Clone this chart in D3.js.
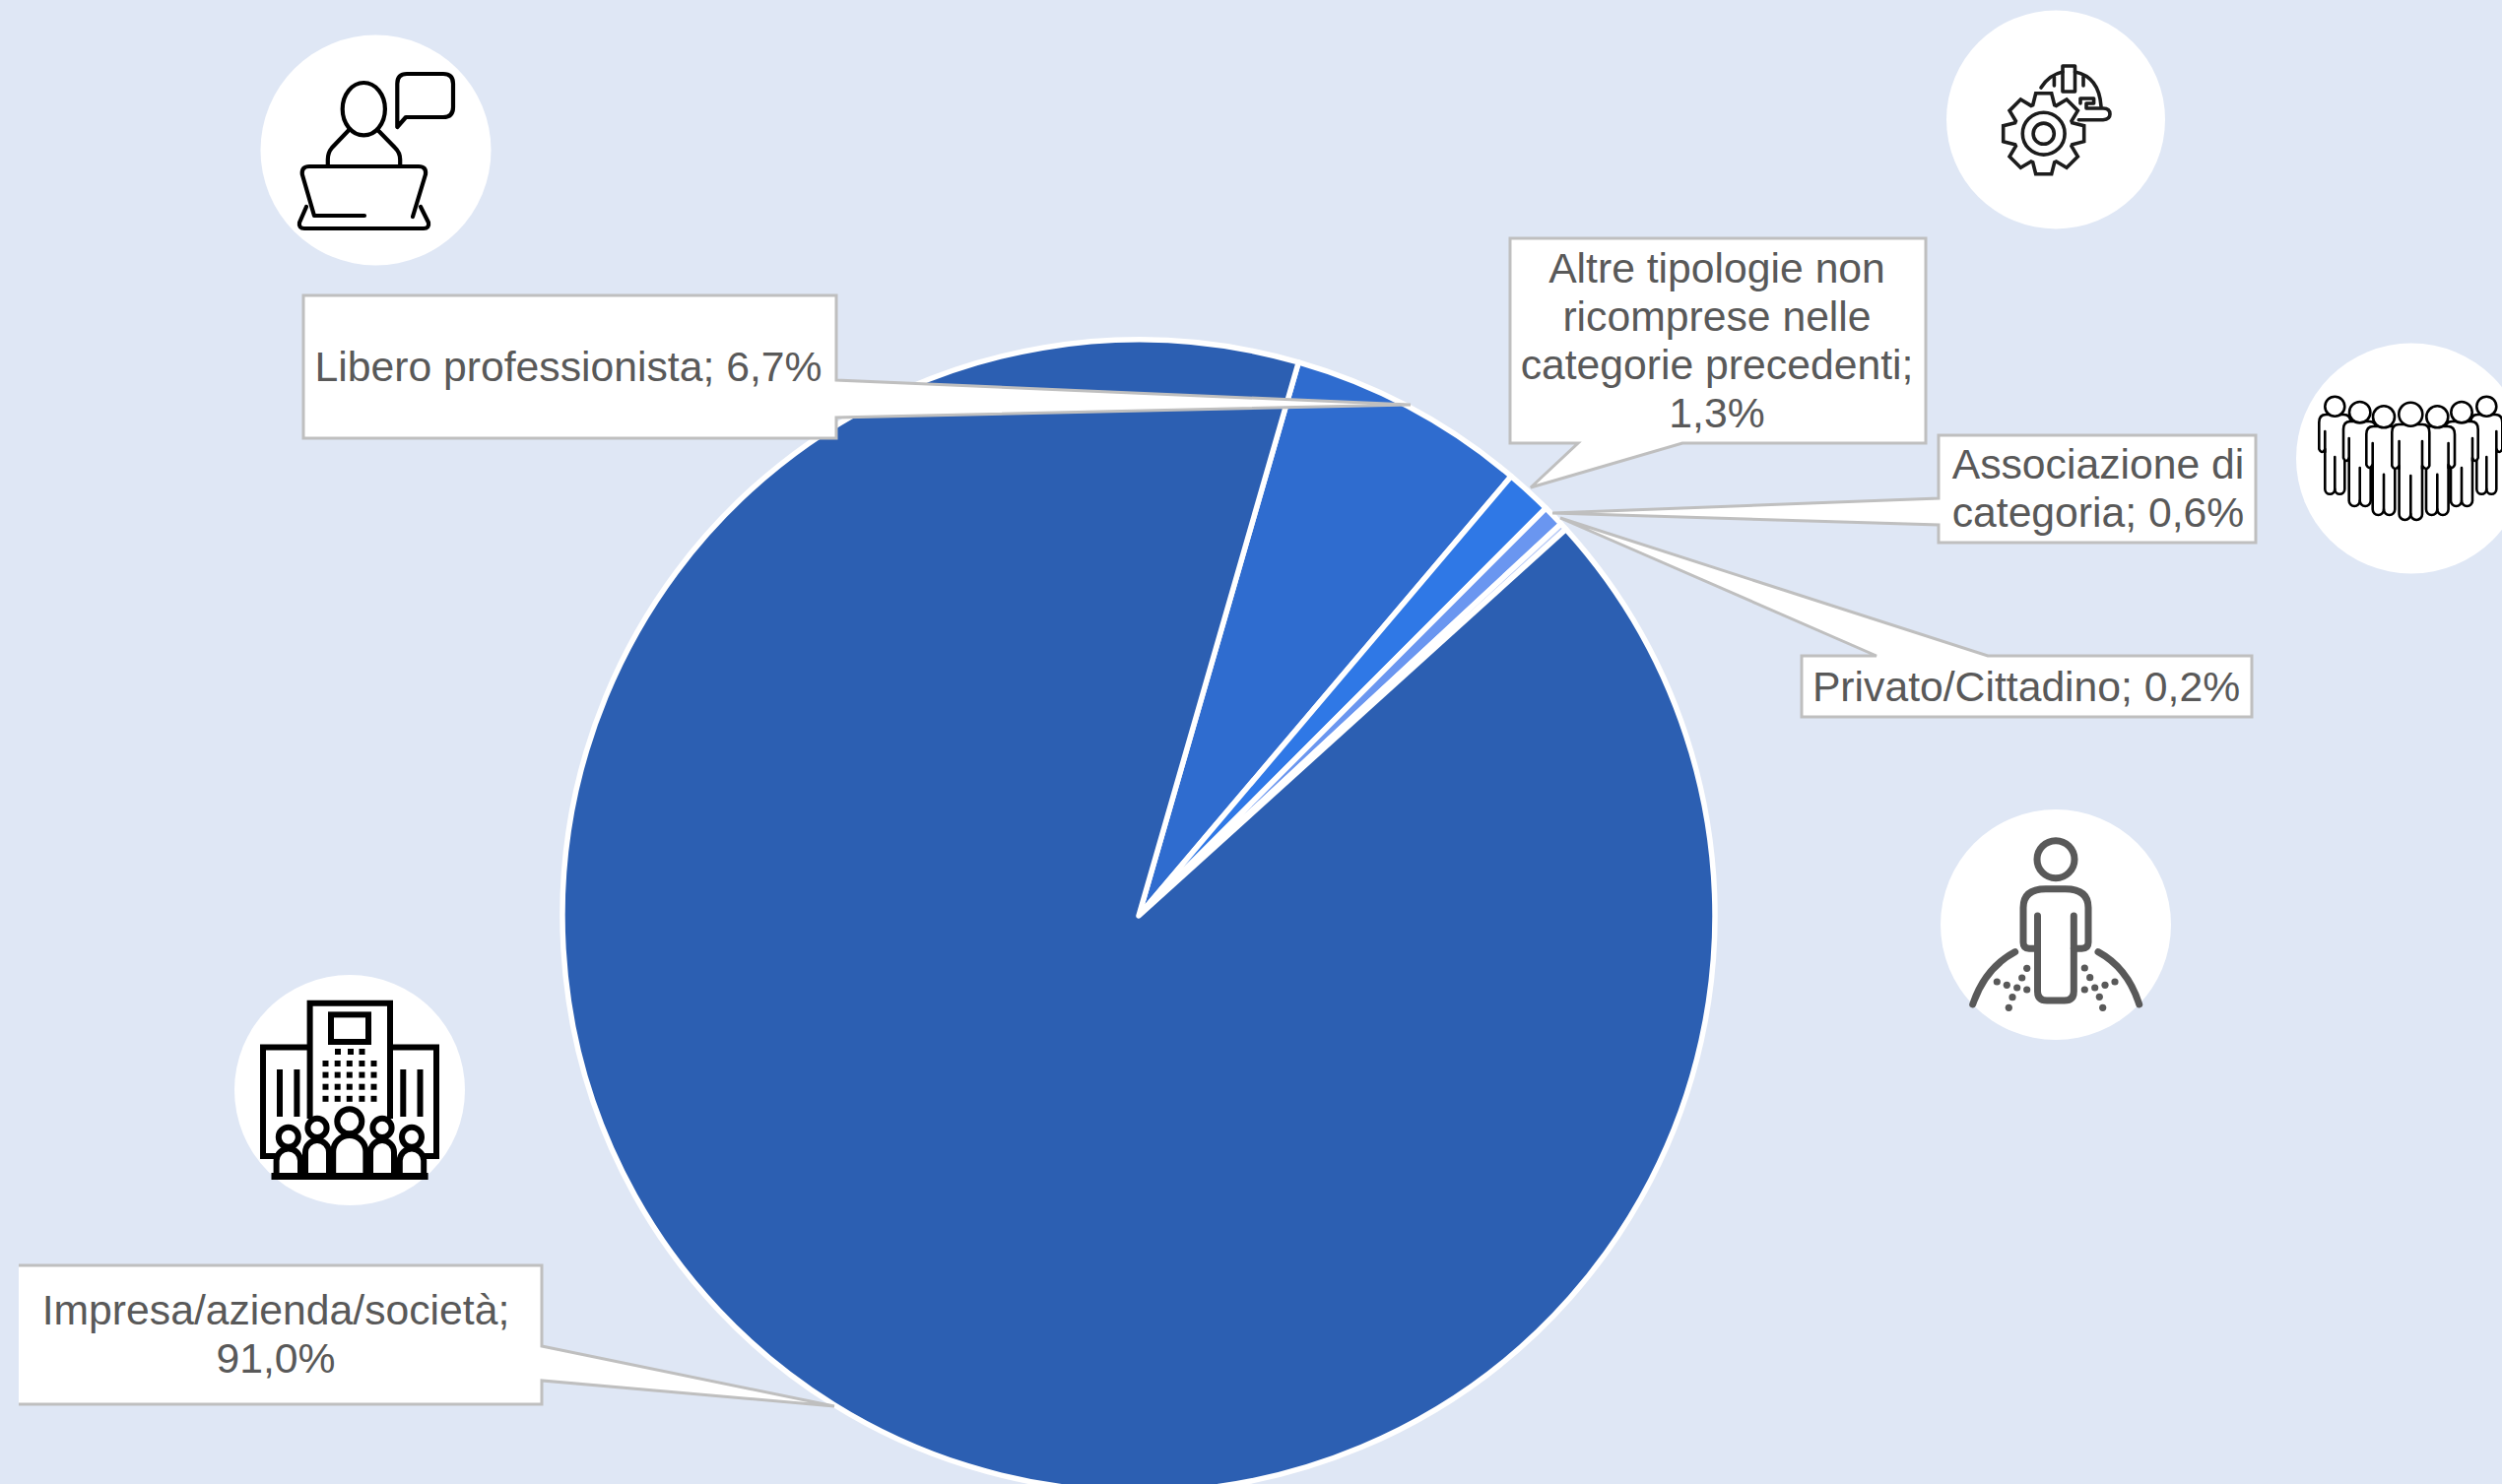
<!DOCTYPE html>
<html lang="it">
<head>
<meta charset="utf-8">
<title>Tipologia di soggetto</title>
<script src="https://cdn.jsdelivr.net/npm/d3@7/dist/d3.min.js"></script>
<style>
  html, body { margin: 0; padding: 0; background: #dfe7f5; overflow: hidden; }
  svg { display: block; }
  text { font-family: "Liberation Sans", Arial, sans-serif; }
</style>
</head>
<body>
<svg id="chart" width="2540" height="1507"></svg>
<script>
// Shares by respondent type, clockwise from the top-right edge of the big slice
const categories = [
  "Libero professionista",
  "Altre tipologie non ricomprese nelle categorie precedenti",
  "Associazione di categoria",
  "Privato/Cittadino",
  "Impresa/azienda/società"
];
const shares = [6.7, 1.3, 0.6, 0.2, 91.0];
const sliceColors = ["#2f6ccf", "#2f78e6", "#6a96f0", "#b9cbf6", "#2c5fb2"];

// Line breaks of each callout; the value is appended to the last text line
const labelLines = [
  ["Libero professionista;"],
  ["Altre tipologie non", "ricomprese nelle", "categorie precedenti;"],
  ["Associazione di", "categoria;"],
  ["Privato/Cittadino;"],
  ["Impresa/azienda/società;"]
];
// Whether the value sits on its own line
const valueOnOwnLine = [false, true, false, false, true];

// Callout outlines: text box plus pointer wedge
const calloutPoints = [
  [[308,300],[849,300],[849,386],[1432,411],[849,424],[849,445],[308,445]],
  [[1533,242],[1955,242],[1955,450],[1708,450],[1554,495],[1602,450],[1533,450]],
  [[1968,442],[2290,442],[2290,551],[1968,551],[1968,533],[1576,521],[1968,506]],
  [[1829,666],[1905,666],[1584,526],[2018,666],[2286,666],[2286,728],[1829,728]],
  [[19,1426],[550,1426],[550,1402],[847,1428],[550,1367],[550,1285],[19,1285]]
];
const calloutOpen = [false, false, false, false, true];
const labelCenterX = [577, 1743, 2130, 2057, 280];
const labelFirstY = [387, 287, 486, 712, 1345];
const lineGap = 49;

const svg = d3.select("#chart");
const cx = 1156, cy = 930, radius = 585;

const firstEdgeDeg = 16.1;
const pie = d3.pie().sort(null).value(d => d)
  .startAngle(firstEdgeDeg * Math.PI / 180)
  .endAngle((firstEdgeDeg + 360) * Math.PI / 180);
const arc = d3.arc().innerRadius(0).outerRadius(radius);

svg.append("g")
  .attr("transform", `translate(${cx},${cy})`)
  .selectAll("path")
  .data(pie(shares))
  .join("path")
  .attr("d", arc)
  .attr("fill", (d, i) => sliceColors[i])
  .attr("stroke", "#ffffff")
  .attr("stroke-width", 5.5)
  .attr("stroke-linejoin", "round");

// Callouts
const outline = d3.line();
const callouts = svg.append("g");
calloutPoints.forEach((pts, i) => {
  const d = outline(pts);
  callouts.append("path").attr("d", d + "Z").attr("fill", "#ffffff");
  callouts.append("path")
    .attr("d", calloutOpen[i] ? d : d + "Z")
    .attr("fill", "none")
    .attr("stroke", "#bfbfbf")
    .attr("stroke-width", 3)
    .attr("stroke-linejoin", "miter");
});

const fmt = v => v.toFixed(1).replace(".", ",") + "%";
labelLines.forEach((lines, i) => {
  const rows = lines.slice();
  if (valueOnOwnLine[i]) rows.push(fmt(shares[i]));
  else rows[rows.length - 1] += " " + fmt(shares[i]);
  svg.append("g").selectAll("text").data(rows).join("text")
    .attr("x", labelCenterX[i])
    .attr("y", (d, r) => labelFirstY[i] + r * lineGap)
    .attr("text-anchor", "middle")
    .attr("font-size", 42.7)
    .attr("fill", "#595959")
    .text(d => d);
});

// White discs behind the pictograms
const discs = [[381.5,152.5,117],[2087,121.5,111],[2448,465.5,117],[2087,939,117],[355,1107,117]];
svg.append("g").selectAll("circle").data(discs).join("circle")
  .attr("cx", d => d[0]).attr("cy", d => d[1]).attr("r", d => d[2]).attr("fill", "#ffffff");

function icon(stroke, width) {
  return svg.append("g")
    .attr("fill", "none").attr("stroke", stroke).attr("stroke-width", width)
    .attr("stroke-linecap", "round").attr("stroke-linejoin", "round");
}

// Person at a laptop with a speech bubble
const laptop = icon("#000000", 4.2);
laptop.append("ellipse").attr("cx", 369.3).attr("cy", 110.7).attr("rx", 21.6).attr("ry", 26.7);
laptop.append("path").attr("d", "M403.3,129V85Q403.3,75 413,75H450Q460,75 460,85V109Q460,119 450,119H412Z");
laptop.append("path").attr("d", "M353.5,132.7L337,150Q332.8,155 332.8,162V168M384.2,132.7L401,150Q406.2,155 406.2,162V168");
laptop.append("path").attr("d", "M370,219H319L306.8,177Q306,169 314,169H425Q433,169 432,177L419,220");
laptop.append("path").attr("d", "M311,210L304,226Q303,232 309,232H430Q436,232 435,226L427,210");

// Gear with a hard hat
const gearIcon = icon("#1c1c1c", 3.6);
const teeth = 8, tipR = 41, rootR = 29, halfTooth = 8;
const gearPts = [];
d3.range(teeth).forEach(k => {
  const a = k * 2 * Math.PI / teeth;
  const at = (r, s) => [Math.sin(a) * r + Math.cos(a) * s, -Math.cos(a) * r + Math.sin(a) * s];
  gearPts.push(at(rootR, -halfTooth - 3), at(tipR, -halfTooth), at(tipR, halfTooth), at(rootR, halfTooth + 3));
});
const gearG = gearIcon.append("g").attr("transform", "translate(2074.7,135.7)");
gearG.append("path").attr("d", d3.line()(gearPts) + "Z").attr("stroke-linejoin", "miter");
gearG.append("circle").attr("r", 21.4);
gearG.append("circle").attr("r", 10.6);
gearIcon.append("path").attr("d", "M2072,89Q2080,76 2094,73M2106.5,73Q2131,78 2133,108");
gearIcon.append("rect").attr("x", 2094).attr("y", 67).attr("width", 12.5).attr("height", 26);
gearIcon.append("path").attr("d", "M2085.4,78V87M2115,78V87");
gearIcon.append("path").attr("d", "M2110.3,121.7H2135Q2142,121 2142,116Q2142,110 2135,110H2118V105H2125.6V100H2112V105");

// Group of seven standing figures, back row first:
// centre, head y, head radius, shoulder y, half width, arm end, leg half width, crotch y, foot y
const groupFigures = [
  [2370.3, 412.7, 10, 421, 16, 459, 10, 464, 501.7],
  [2524.3, 412.7, 10, 421, 16, 459, 10, 464, 501.7],
  [2395.7, 418.7, 10.7, 428, 16.7, 468, 11, 475, 514],
  [2499, 418.7, 10.7, 428, 16.7, 468, 11, 475, 514],
  [2420, 423.3, 11, 433, 17.7, 475, 11.3, 481.7, 523],
  [2474.3, 423.3, 11, 433, 17.7, 475, 11.3, 481.7, 523],
  [2447.3, 420.7, 12, 431, 19, 476, 11.7, 483, 528]
];
const crowd = icon("#000000", 2.6).attr("fill", "#ffffff");
groupFigures.forEach(([x, headY, headR, top, half, armEnd, legs, crotch, foot]) => {
  const g = crowd.append("g");
  const footR = legs / 2;
  g.append("path").attr("d", [
    `M${x - half},${top + 8}Q${x - half},${top} ${x - half + 7},${top}`,
    `H${x + half - 7}Q${x + half},${top} ${x + half},${top + 8}`,
    `V${armEnd - 3}Q${x + half - 3},${armEnd + 3} ${x + legs},${armEnd - 3}`,
    `V${foot - footR}A${footR},${footR} 0 0 1 ${x},${foot - footR}`,
    `A${footR},${footR} 0 0 1 ${x - legs},${foot - footR}`,
    `V${armEnd - 3}Q${x - half + 3},${armEnd + 3} ${x - half},${armEnd - 3}Z`
  ].join(""));
  g.append("path").attr("fill", "none")
    .attr("d", `M${x},${foot - footR}V${crotch}M${x - legs},${top + 17}V${armEnd}M${x + legs},${top + 17}V${armEnd}`);
  g.append("circle").attr("cx", x).attr("cy", headY).attr("r", headR);
});

// Citizen standing on a globe
const citizen = icon("#595959", 7);
citizen.append("circle").attr("cx", 2087).attr("cy", 872.7).attr("r", 19);
citizen.append("path").attr("d", "M2068.5,963.3H2060Q2054,963 2054,957V921.7Q2054,902.7 2076.7,902.7H2096.7Q2120,902.7 2120,921.7V957Q2120,963 2113.3,963.3H2105.3");
citizen.append("path").attr("d", "M2068.5,930V1006.7Q2068.5,1016 2078,1016H2095.7Q2105.3,1016 2105.3,1006.7V930");
citizen.append("path").attr("d", "M2045.7,966.7Q2015,983 2002.7,1020M2130,966.7Q2160,983 2171.7,1020");
const globeDots = [
  [2057.7,983.3],[2052.7,993],[2047.7,1003],[2037.3,1000.3],[2027.3,997],[2057.7,1005],[2043,1012.7],[2039.3,1023.3],
  [2116.3,983],[2121.7,992.7],[2126.7,1003],[2137,1000.3],[2147,997],[2116.3,1005],[2131.3,1012.3],[2134.7,1023.3]
];
citizen.append("g").attr("stroke", "none").attr("fill", "#595959")
  .selectAll("circle").data(globeDots).join("circle")
  .attr("cx", d => d[0]).attr("cy", d => d[1]).attr("r", 3.6);

// Office buildings with people in front
const office = icon("#000000", 6).attr("stroke-linecap", "butt").attr("stroke-linejoin", "miter");
office.append("path").attr("d", "M314.6,1136V1018.7H396V1136");
office.append("path").attr("d", "M314.6,1063.4H267V1174H280M396,1063.4H443V1174H430");
office.append("rect").attr("x", 336).attr("y", 1030.4).attr("width", 38).attr("height", 27.6);
office.append("path").attr("d", "M284,1086V1134M301.4,1086V1134M409.3,1086V1134M426.5,1086V1134");
const windowRows = [[1068, [343,356,367.5]], [1080,[330.5,342.7,354.8,367.4,379.5]], [1091.6,[330.5,342.7,354.8,367.4,379.5]], [1103.7,[330.5,342.7,354.8,367.4,379.5]], [1115.8,[330.5,342.7,354.8,367.4,379.5]]];
windowRows.forEach(([y, xs]) => {
  office.append("g").attr("stroke", "none").attr("fill", "#000000")
    .selectAll("rect").data(xs).join("rect")
    .attr("x", d => d - 3).attr("y", y - 3).attr("width", 6).attr("height", 6);
});
const crowdFront = [
  [292.8, 1154.8, 10, 12.2, 1166.6],
  [418, 1154.8, 10, 12.2, 1166.6],
  [322, 1145.4, 9.6, 12, 1158],
  [388, 1145.4, 9.6, 12, 1158],
  [354.8, 1138.7, 12.5, 16.6, 1153]
];
crowdFront.forEach(([x, headY, headR, half, top]) => {
  office.append("circle").attr("cx", x).attr("cy", headY).attr("r", headR).attr("fill", "#ffffff");
  office.append("path").attr("fill", "#ffffff")
    .attr("d", `M${x - half},1194.5V${top + half}A${half},${half} 0 0 1 ${x + half},${top + half}V1194.5Z`);
});
office.append("path").attr("d", "M275.5,1194.5H434.6").attr("stroke-width", 7);
</script>
</body>
</html>
